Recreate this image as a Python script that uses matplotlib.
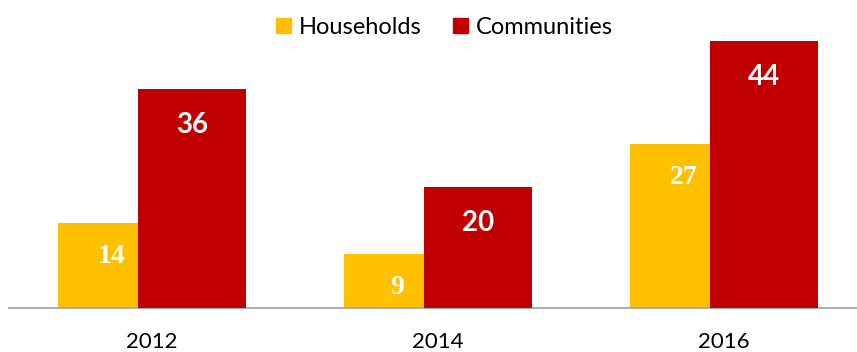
import matplotlib.pyplot as plt
from matplotlib.patches import Patch
import numpy as np

years = ["2012", "2014", "2016"]
households = [14, 9, 27]
communities = [36, 20, 44]

YELLOW = "#FFC000"
RED = "#C00000"

fig = plt.figure(figsize=(8.57, 3.52), dpi=100)
# plot area runs a little past the right edge of the canvas
ax = fig.add_axes([9 / 857, 0.1236, 858 / 857, 0.8764])

x = np.arange(len(years))
width = 0.378
shift = 0.141

bars_h = ax.bar(x - shift, households, width, color=YELLOW, zorder=2)
bars_c = ax.bar(x + shift, communities, width, color=RED, zorder=3)

for rect, val in zip(bars_h, households):
    ax.annotate(str(val), (rect.get_x() + rect.get_width() / 2, rect.get_height()),
                xytext=(0, -40), textcoords="offset pixels", ha="center", va="baseline",
                color="white", fontsize=20, fontweight="bold",
                family="Liberation Serif", zorder=4)

for rect, val in zip(bars_c, communities):
    ax.annotate(str(val), (rect.get_x() + rect.get_width() / 2, rect.get_height()),
                xytext=(0, -44), textcoords="offset pixels", ha="center", va="baseline",
                color="white", fontsize=20, fontweight="bold",
                family="Lato", zorder=4)

ax.set_xlim(-0.5, 2.5)
ax.set_ylim(0, 50.66)
ax.set_xticks(x)
ax.set_xticklabels(years, fontsize=16, family="Lato")
ax.tick_params(axis="x", length=0, pad=17)
ax.set_yticks([])
for side in ["top", "left", "right"]:
    ax.spines[side].set_visible(False)
ax.spines["bottom"].set_color("#A6A6A6")
ax.spines["bottom"].set_linewidth(1.3)

handles = [Patch(color=YELLOW, label="Households"),
           Patch(color=RED, label="Communities")]
fig.legend(handles=handles, loc="center", bbox_to_anchor=(444.5 / 857, 0.923),
           ncol=2, frameon=False, prop={"family": "Lato", "size": 17},
           handlelength=0.64, handleheight=0.6, handletextpad=0.33,
           columnspacing=1.31, borderpad=0)

fig.savefig("out.png", dpi=100)
